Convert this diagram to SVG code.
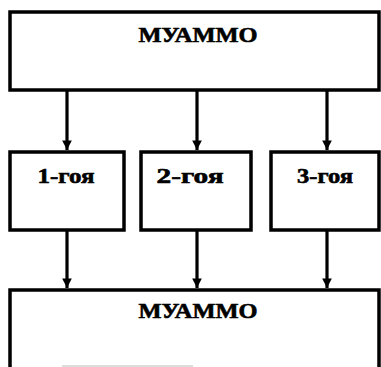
<svg xmlns="http://www.w3.org/2000/svg" width="381" height="367" viewBox="0 0 381 367">
<defs>
<style>
.box{fill:#fff;stroke:#000;stroke-width:3.5}
.lbl{font-family:"Liberation Serif","Times New Roman",serif;font-weight:bold;font-size:21px;fill:#000;stroke:#000;stroke-width:0.6;text-anchor:middle}
.ln{stroke:#000;stroke-width:3.2;fill:none}
</style>
<marker id="ah" viewBox="0 0 10 10" refX="10" refY="5" markerWidth="3.4" markerHeight="3" orient="auto" markerUnits="strokeWidth">
<path d="M0,0 L10,5 L0,10 z" fill="#000"/>
</marker>
</defs>
<rect width="381" height="367" fill="#fff"/>
<g id="top">
<rect class="box" x="10" y="12" width="369" height="78"/>
<text class="lbl" x="198" y="42" textLength="119" lengthAdjust="spacingAndGlyphs">МУАММО</text>
</g>
<g id="node1">
<rect class="box" x="10" y="152" width="114" height="78"/>
<text class="lbl" x="66" y="183" textLength="57" lengthAdjust="spacingAndGlyphs">1-гоя</text>
</g>
<g id="node2">
<rect class="box" x="141" y="152" width="110" height="78"/>
<text class="lbl" x="190" y="183" textLength="67" lengthAdjust="spacingAndGlyphs">2-гоя</text>
</g>
<g id="node3">
<rect class="box" x="271" y="152" width="108" height="78"/>
<text class="lbl" x="325" y="183" textLength="56" lengthAdjust="spacingAndGlyphs">3-гоя</text>
</g>
<g id="bottom">
<path class="box" d="M10,369 L10,290 L379,290 L379,369"/>
<text class="lbl" x="198" y="318" textLength="119" lengthAdjust="spacingAndGlyphs">МУАММО</text>
<line x1="62" y1="366" x2="193" y2="366" stroke="#bbb" stroke-width="1"/>
</g>
<g id="connectors">
<line class="ln" x1="67" y1="91" x2="67" y2="150" marker-end="url(#ah)"/>
<line class="ln" x1="197" y1="91" x2="197" y2="150" marker-end="url(#ah)"/>
<line class="ln" x1="327" y1="91" x2="327" y2="150" marker-end="url(#ah)"/>
<line class="ln" x1="67" y1="231" x2="67" y2="288" marker-end="url(#ah)"/>
<line class="ln" x1="197" y1="231" x2="197" y2="288" marker-end="url(#ah)"/>
<line class="ln" x1="327" y1="231" x2="327" y2="288" marker-end="url(#ah)"/>
</g>
</svg>
